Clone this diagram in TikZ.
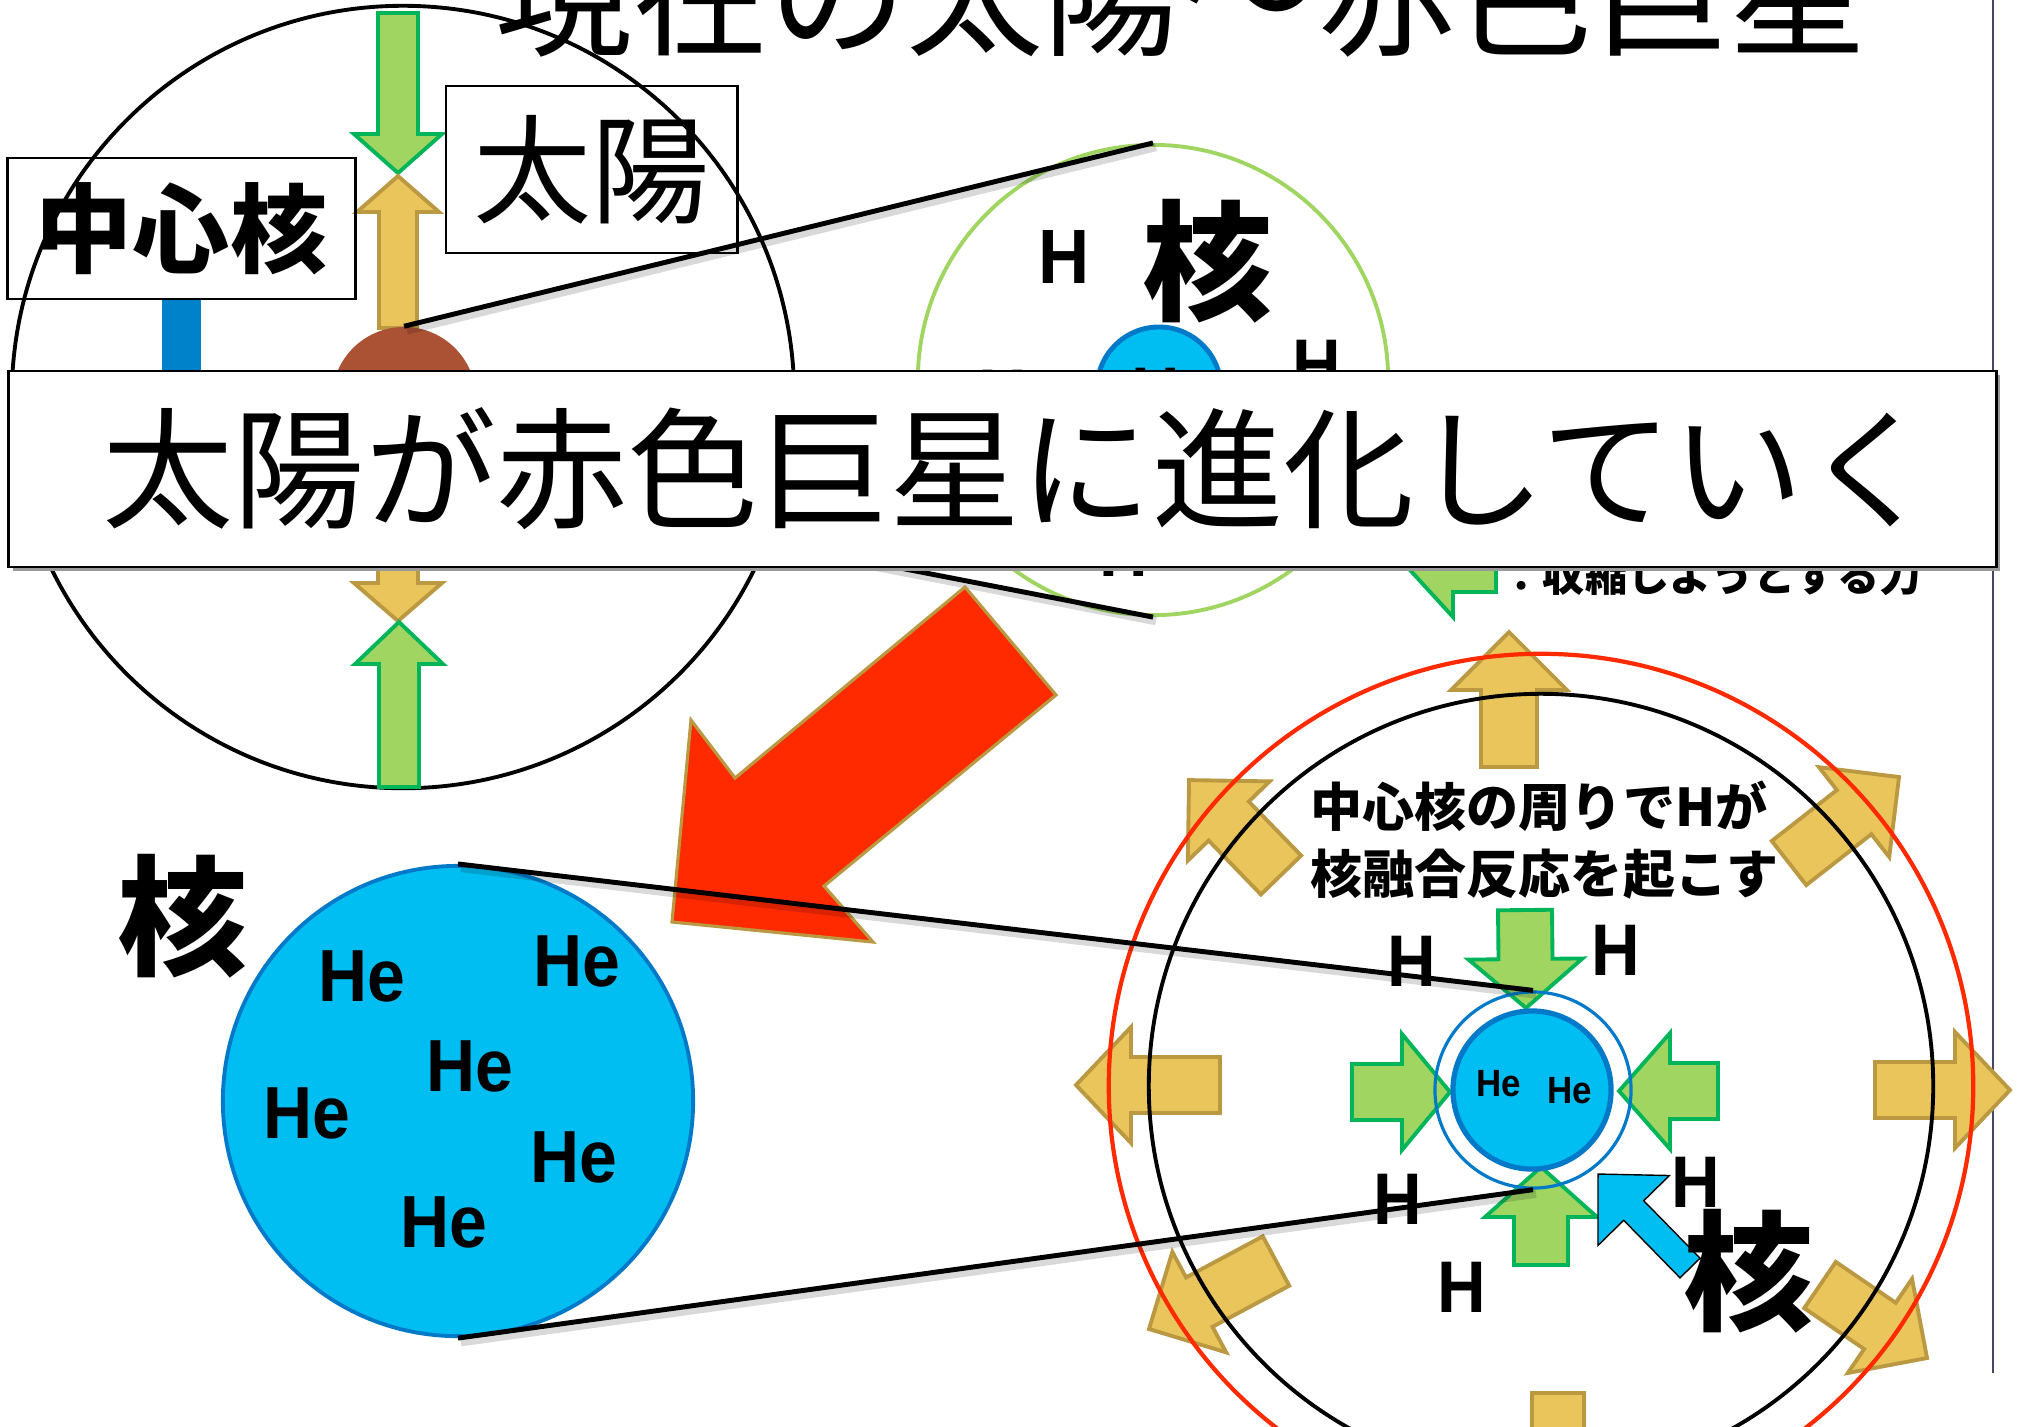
\documentclass[tikz,border=0pt]{standalone}
\usepackage{fontspec}
\setmainfont{Liberation Sans}
\newfontfamily\jp{Noto Sans CJK JP}
\newfontfamily\latinnarrow[FakeStretch=0.92]{Liberation Sans}
\usetikzlibrary{calc}

\definecolor{leaf}{RGB}{160,213,98}
\definecolor{leafline}{RGB}{0,180,90}
\definecolor{gold}{RGB}{234,197,92}
\definecolor{goldline}{RGB}{186,153,66}
\definecolor{flame}{RGB}{255,42,0}
\definecolor{sky}{RGB}{0,190,242}
\definecolor{skyline}{RGB}{0,122,200}
\definecolor{rust}{RGB}{172,82,52}
\definecolor{barblue}{RGB}{0,130,202}
\definecolor{edgeline}{RGB}{70,70,100}

% block arrow: style, tail x, tail y, tip x, tip y, shaft half width, head half width, head length
\newcommand{\blockarrow}[8]{%
  \pgfmathsetmacro{\baAng}{atan2(-((#5)-(#3)),(#4)-(#2))}%
  \pgfmathsetmacro{\baLen}{veclen((#4)-(#2),(#5)-(#3))}%
  \pgfmathsetmacro{\baBase}{\baLen-(#8)}%
  \draw[#1,shift={(#2,#3)},rotate=\baAng]
    (0,-#6) -- (\baBase,-#6) -- (\baBase,-#7) -- (\baLen,0)
    -- (\baBase,#7) -- (\baBase,#6) -- (0,#6) -- cycle;}

\tikzset{
  leafarrow/.style={fill=leaf, draw=leafline, line width=1.1pt},
  goldarrow/.style={fill=gold, draw=goldline, line width=1.1pt},
  skyarrow/.style={fill=sky},
  redarrow/.style={fill=flame, draw=goldline, line width=0.9pt, line join=miter},
  pointer/.style={line width=1.4pt},
  pshadow/.style={line width=2.4pt, black, opacity=0.15},
  labelbox/.style={rectangle, draw, line width=0.8pt, inner sep=0},
  ring/.style={circle, inner sep=0},
  kanji/.style={inner sep=0, font=\jp\bfseries\fontsize{37}{40}\selectfont},
  hlabel/.style={inner sep=0, font=\latinnarrow\bfseries\fontsize{20.8}{24}\selectfont},
  helabel/.style={inner sep=0, font=\latinnarrow\bfseries\fontsize{21}{24}\selectfont},
  smallhe/.style={inner sep=0, font=\latinnarrow\bfseries\fontsize{10.8}{12}\selectfont},
  caption/.style={inner sep=0, anchor=base west, font=\jp\bfseries\fontsize{14.8}{16}\selectfont},
}

\begin{document}
\begin{tikzpicture}[x=0.01cm, y=-0.01cm]
\useasboundingbox (0,0) rectangle (2022,1426);
\fill[white] (0,0) rectangle (2022,1426);

% slide edge
\coordinate (ltop) at (1993,0);
\coordinate (lbot) at (1993,1373);
\draw[edgeline, line width=0.45pt] (ltop) -- (lbot);

% ---------- the present sun ----------
\node[ring, draw, line width=1.1pt, minimum size=7.82cm] (sun) at (403,397) {};
\blockarrow{leafarrow}{398}{13}{398}{173}{20}{44}{39}
\blockarrow{goldarrow}{398}{328}{398}{176}{19}{41}{36}
\blockarrow{goldarrow}{398}{471}{398}{621}{20}{44}{38}
\blockarrow{leafarrow}{399}{787}{399}{622}{20}{44}{42}
\node[ring, fill=rust, minimum size=1.44cm] (core) at (404,399) {};

\node[labelbox, minimum width=3.47cm, minimum height=1.41cm,
      font=\jp\bfseries\fontsize{27.6}{30}\selectfont] (cbox) at (181.5,228.5) {中心核};
\draw[barblue, line width=11pt] (cbox.south) -- ++(0,100);
\node[labelbox, minimum width=2.91cm, minimum height=1.67cm,
      font=\jp\fontsize{33.6}{36}\selectfont] (sbox) at (591.5,169.5) {太陽};

% title
\node[anchor=base, inner sep=0, font=\jp\fontsize{39}{42}\selectfont] (title) at (1181,45) {現在の太陽〜赤色巨星};

% ---------- enlarged core of the present sun ----------
\node[ring, draw=leaf, line width=1.1pt, minimum size=4.70cm] (gcirc) at (1153,380) {};
\node[hlabel, font=\latinnarrow\bfseries\fontsize{21.9}{24}\selectfont] (gh1) at (1064,257) {H};
\node[kanji] (gk) at (1208,261) {核};
\node[ring, draw=skyline, fill=sky, line width=1.4pt, minimum size=1.24cm] (gcore) at (1159,389) {};
\node[hlabel] (ghe) at (1174,394) {He};
\node[hlabel] (gh2) at (1317,365) {H};
\node[hlabel] (gh3) at (1003,395) {H};
\node[hlabel] (gh4) at (1124,551) {H};

\draw[pshadow] ([shift={(3,4)}]core.north) -- ([shift={(3,4)}]gcirc.north);
\draw[pshadow] ([shift={(3,4)}]core.south) -- ([shift={(3,4)}]gcirc.south);
\draw[pointer] (core.north) -- (gcirc.north);
\draw[pointer] (core.south) -- (gcirc.south);

% legend (partly under the banner)
\blockarrow{leafarrow}{1496}{570}{1410}{570}{22}{47}{43}
\node[anchor=base west, inner sep=0, font=\jp\bfseries\fontsize{12}{14}\selectfont] (legend) at (1500,591) {：収縮しようとする力};

% ---------- banner ----------
\fill[black!40] (13,375) rectangle (2000,571);
\node[labelbox, fill=white, minimum width=19.87cm, minimum height=1.96cm] (banner) at (1002.5,469) {};
\node[inner sep=0, font=\jp\fontsize{37.3}{40}\selectfont] (bannertext) at (1019,469) {太陽が赤色巨星に進化していく};

% evolution arrow
\draw[redarrow] (965,587) -- (1056,695) -- (824,886) -- (873,942) -- (672,922) -- (691,720) -- (735,778) -- cycle;

% ---------- helium core ----------
\node[ring, draw=skyline, fill=sky, line width=1.1pt, minimum size=4.70cm] (bigcore) at (458,1101) {};
\node[kanji] (bk) at (183,916) {核};
\node[helabel] (he1) at (362,976) {He};
\node[helabel] (he2) at (577,961) {He};
\node[helabel] (he3) at (470,1066) {He};
\node[helabel] (he4) at (307,1113) {He};
\node[helabel] (he5) at (574,1157) {He};
\node[helabel] (he6) at (444,1222) {He};

% ---------- red giant ----------
\blockarrow{goldarrow}{1509}{767}{1509}{632}{28}{58}{58}
\blockarrow{goldarrow}{1220}{1085}{1076}{1085}{28}{58}{55}
\blockarrow{goldarrow}{1875}{1090}{2010}{1090}{28}{58}{55}
\blockarrow{goldarrow}{1281}{875}{1189}{780}{28}{57}{57}
\blockarrow{goldarrow}{1789}{863}{1899}{777}{28}{57}{57}
\blockarrow{goldarrow}{1276}{1261}{1149}{1329}{28}{57}{57}
\blockarrow{goldarrow}{1820}{1285}{1927}{1358}{28}{57}{57}
\blockarrow{goldarrow}{1558}{1393}{1558}{1530}{26}{57}{57}

\node[ring, draw=flame, line width=1.2pt, minimum size=8.64cm] (redring) at (1541,1086) {};
\node[ring, draw, line width=1.1pt, minimum size=7.84cm] (blackring) at (1541,1086) {};

\node[caption] (cap1) at (1310,826) {中心核の周りでHが};
\node[caption] (cap2) at (1310,893) {核融合反応を起こす};

\blockarrow{leafarrow}{1525}{910}{1526}{1008}{27}{57}{49}
\blockarrow{leafarrow}{1541}{1265}{1541}{1167}{27}{56}{50}
\blockarrow{leafarrow}{1352}{1092}{1450}{1092}{28}{58}{48}
\blockarrow{leafarrow}{1718}{1091}{1619}{1091}{28}{58}{51}

\node[ring, draw=skyline, line width=0.9pt, minimum size=1.96cm] (shell) at (1533,1090) {};
\node[ring, draw=skyline, fill=sky, line width=1.5pt, minimum size=1.58cm] (smallcore) at (1532,1090) {};
\node[smallhe] (she1) at (1499,1084) {He};
\node[smallhe] (she2) at (1570,1091) {He};

\node[hlabel] (rh1) at (1412,961) {H};
\node[hlabel] (rh2) at (1616,950) {H};
\node[hlabel] (rh3) at (1398,1199) {H};
\node[hlabel] (rh4) at (1696,1182) {H};
\node[hlabel] (rh5) at (1462,1287) {H};

\blockarrow{skyarrow}{1690}{1268}{1598}{1174}{14}{50}{51}
\node[kanji] (rk) at (1749,1271) {核};

\draw[pshadow] ([shift={(3,4)}]bigcore.north) -- ([shift={(3,4)}]shell.north);
\draw[pshadow] ([shift={(3,4)}]bigcore.south) -- ([shift={(3,4)}]shell.south);
\draw[pointer] (bigcore.north) -- (shell.north);
\draw[pointer] (bigcore.south) -- (shell.south);
\end{tikzpicture}
\end{document}
